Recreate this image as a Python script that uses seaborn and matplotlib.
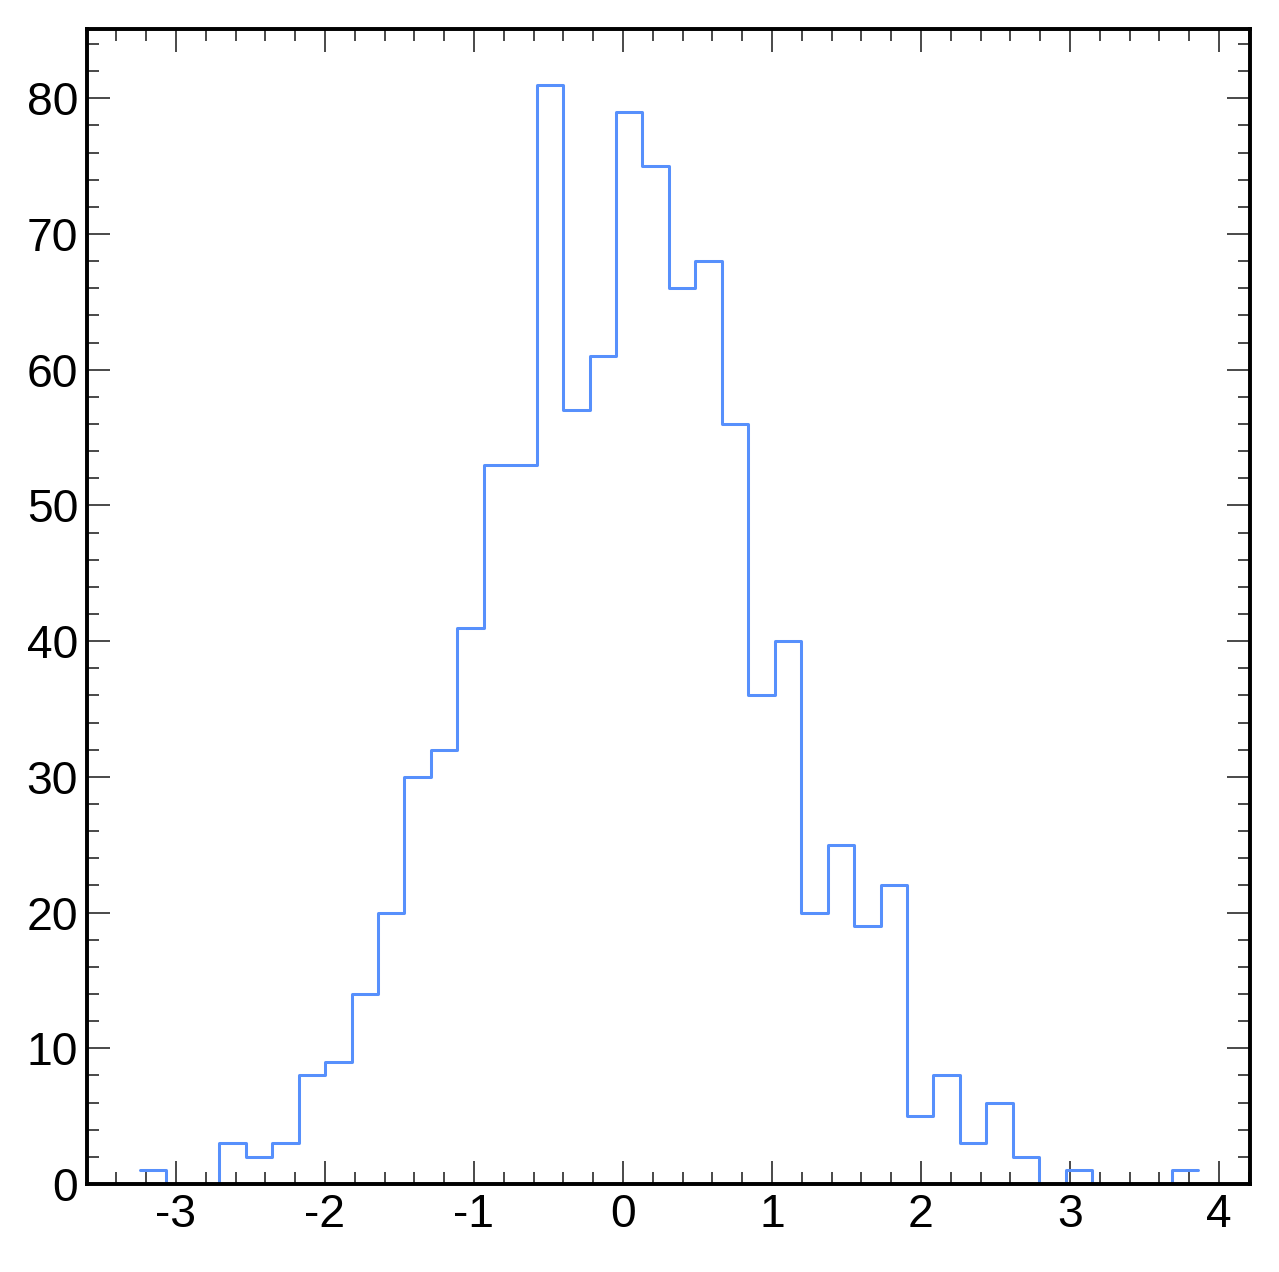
import numpy as np
import pandas as pd
import seaborn as sns
import matplotlib.pyplot as plt
from matplotlib.ticker import MultipleLocator

# bin edges: 40 equal bins between sample min and max
x_min, x_max, n_bins = -3.242, 3.859, 40
counts = [1, 0, 0, 3, 2, 3, 8, 9, 14, 20,
          30, 32, 41, 53, 53, 81, 57, 61, 79, 75,
          66, 68, 56, 36, 40, 20, 25, 19, 22, 5,
          8, 3, 6, 2, 0, 1, 0, 0, 0, 1]

edges = np.linspace(x_min, x_max, n_bins + 1)
centers = 0.5 * (edges[:-1] + edges[1:])
df = pd.DataFrame({"x": centers, "w": counts})

sns.set_style("ticks")
plt.rcParams["font.family"] = ["Liberation Sans", "DejaVu Sans"]
plt.rcParams["font.size"] = 26
plt.rcParams["axes.unicode_minus"] = False

fig = plt.figure(figsize=(1279 / 128, 1272 / 128), dpi=128)
ax = fig.add_axes([87 / 1279, 1 - 1184 / 1272, (1250 - 87) / 1279, (1184 - 29) / 1272])

# list, not array: seaborn compares bins to "auto" when weights are given
sns.histplot(data=df, x="x", weights="w", bins=edges.tolist(), element="step", fill=False,
             color="#5790fc", linewidth=1.7, ax=ax)

ax.set_xlim(-3.597, 4.208)
ax.set_ylim(0, 85.1)
ax.set_xlabel("")
ax.set_ylabel("")

ax.xaxis.set_major_locator(MultipleLocator(1))
ax.xaxis.set_minor_locator(MultipleLocator(0.2))
ax.yaxis.set_major_locator(MultipleLocator(10))
ax.yaxis.set_minor_locator(MultipleLocator(2))

for s in ax.spines.values():
    s.set_linewidth(2.2)
    s.set_color("black")
ax.tick_params(which="both", direction="in", top=True, right=True, labelsize=26,
               color="#222222", labelcolor="black")
ax.tick_params(which="major", length=13, width=0.9)
ax.tick_params(which="minor", length=6.5, width=0.9)
ax.tick_params(axis="x", which="major", pad=5)
ax.tick_params(axis="y", which="major", pad=5)

fig.savefig("out.png", dpi=128)
